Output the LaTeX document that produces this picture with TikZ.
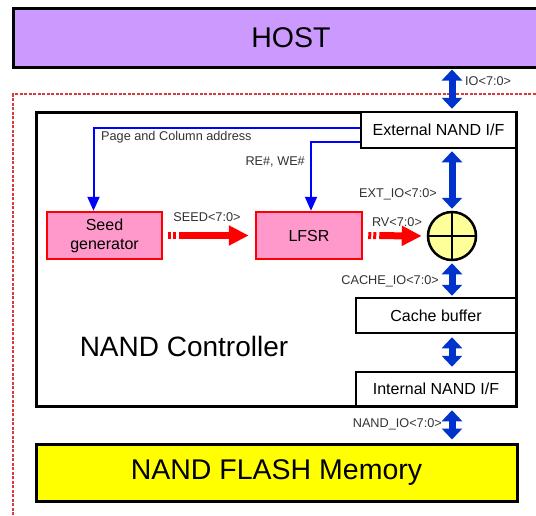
\documentclass[tikz,border=0pt]{standalone}
\usepackage{fontspec}
\setmainfont{Liberation Sans}
\usepackage{xcolor}
\usepackage{tikz}
\usetikzlibrary{arrows.meta, positioning, calc}
\definecolor{HostPurple}{RGB}{204,153,255}
\definecolor{RngPink}{RGB}{255,153,204}
\definecolor{BusBlue}{RGB}{0,51,204}
\definecolor{CtlBlue}{RGB}{0,0,255}
\definecolor{XorYellow}{RGB}{255,255,153}
\definecolor{FlashYellow}{RGB}{255,255,0}
\definecolor{FrameRed}{RGB}{215,60,60}

\begin{document}
\begin{tikzpicture}[x=1pt, y=-1pt,
  bigbox/.style={draw=black, line width=3pt, inner sep=0pt,
                 font=\fontsize{28.5}{32}\selectfont},
  ifbox/.style={draw=black, fill=white, line width=2.5pt, inner sep=0pt,
                font=\fontsize{16}{19}\selectfont},
  rngbox/.style={draw=red, fill=RngPink, line width=2.5pt, inner sep=0pt,
                 font=\fontsize{16}{19}\selectfont, align=center},
  xorc/.style={circle, draw=black, fill=XorYellow, line width=2.5pt,
               minimum size=48pt, inner sep=0pt},
  lbl/.style={font=\fontsize{12.7}{15}\selectfont, black!80, inner sep=0pt},
  busarr/.style={{Triangle[length=11pt,width=20pt]}-{Triangle[length=11pt,width=20pt]},
                 BusBlue, line width=7pt},
  ctlarr/.style={-{Triangle[length=14pt,width=12pt]}, CtlBlue, line width=2pt},
  dataarr/.style={-{Triangle[length=20pt,width=19pt]}, red, line width=7pt,
                  dash pattern=on 3pt off 2pt on 3pt off 3pt on 300pt off 0pt},
]
\useasboundingbox (0,0) rectangle (536,515);
\clip (0,0) rectangle (536,515);
% Host and chip frame
\node[bigbox, fill=HostPurple, minimum width=556pt, minimum height=59pt]
  (host) at (291,37.5) {HOST};
\draw[FrameRed, line width=2.5pt, dash pattern=on 3pt off 1.5pt] (13,515) |- (560,94);
% NAND controller
\node[draw=black, line width=3pt, fill=white, minimum width=480pt,
      minimum height=294pt] (ctrl) at (276,259) {};
\node[font=\fontsize{28}{32}\selectfont, inner sep=0pt] (ctrlname) at (184,346)
  {NAND Controller};
\node[ifbox, minimum width=155pt, minimum height=36pt] (ext) at (438.5,130)
  {External NAND I/F};
\node[ifbox, minimum width=160pt, minimum height=35pt] (cache) at (436,315.5)
  {Cache buffer};
\node[ifbox, minimum width=160pt, minimum height=34pt] (intf) at (436,389)
  {Internal NAND I/F};
\node[rngbox, minimum width=115pt, minimum height=47pt] (seed) at (104.5,235.5)
  {Seed\\generator};
\node[rngbox, minimum width=106pt, minimum height=47pt] (lfsr) at (309,235.5)
  {LFSR};
\node[xorc] (xor) at (452,236) {};
\draw[line width=2.5pt] (xor.north) -- (xor.south) (xor.west) -- (xor.east);
% NAND flash
\node[bigbox, fill=FlashYellow, minimum width=481pt, minimum height=57pt]
  (flash) at (276.5,472.5) {NAND FLASH Memory};
% Control lines
\draw[ctlarr] ([yshift=2pt]ext.west) -| ([xshift=-11pt]seed.north);
\draw[ctlarr] ([yshift=-12pt]ext.west) -| ([xshift=2pt]lfsr.north);
\node[lbl, anchor=west] (pca) at (101,137) {Page and Column address};
\node[lbl, anchor=east] (rewe) at (305,162) {RE\#, WE\#};
% Data path
\draw[dataarr, shorten <=5pt, shorten >=6pt] (seed.east) -- (lfsr.west);
\draw[dataarr, shorten <=5pt, shorten >=5pt] (lfsr.east) -- (xor.west);
\node[lbl] (seedlbl) at (207,217) {SEED<7:0>};
\node[lbl] (rvlbl) at (397,222) {RV<7:0>};
% Buses
\draw[busarr, shorten <=1pt, shorten >=2pt] (host.south -| xor) -- (ext.north -| xor);
\draw[busarr, shorten <=2pt, shorten >=2pt] (ext.south -| xor) -- (xor.north);
\draw[busarr, shorten <=2pt, shorten >=1pt] (xor.south) -- (cache.north -| xor);
\draw[busarr, shorten <=3pt, shorten >=4pt] (cache.south -| xor) -- (intf.north -| xor);
\draw[busarr, shorten <=3pt, shorten >=3pt] (intf.south -| xor) -- (flash.north -| xor);
\node[lbl, anchor=west] (iolbl) at (465,81) {IO<7:0>};
\node[lbl, anchor=east] (extlbl) at (437,194) {EXT\_IO<7:0>};
\node[lbl, anchor=east] (cachelbl) at (439,281) {CACHE\_IO<7:0>};
\node[lbl, anchor=east] (nandlbl) at (442,424) {NAND\_IO<7:0>};
\end{tikzpicture}
\end{document}
